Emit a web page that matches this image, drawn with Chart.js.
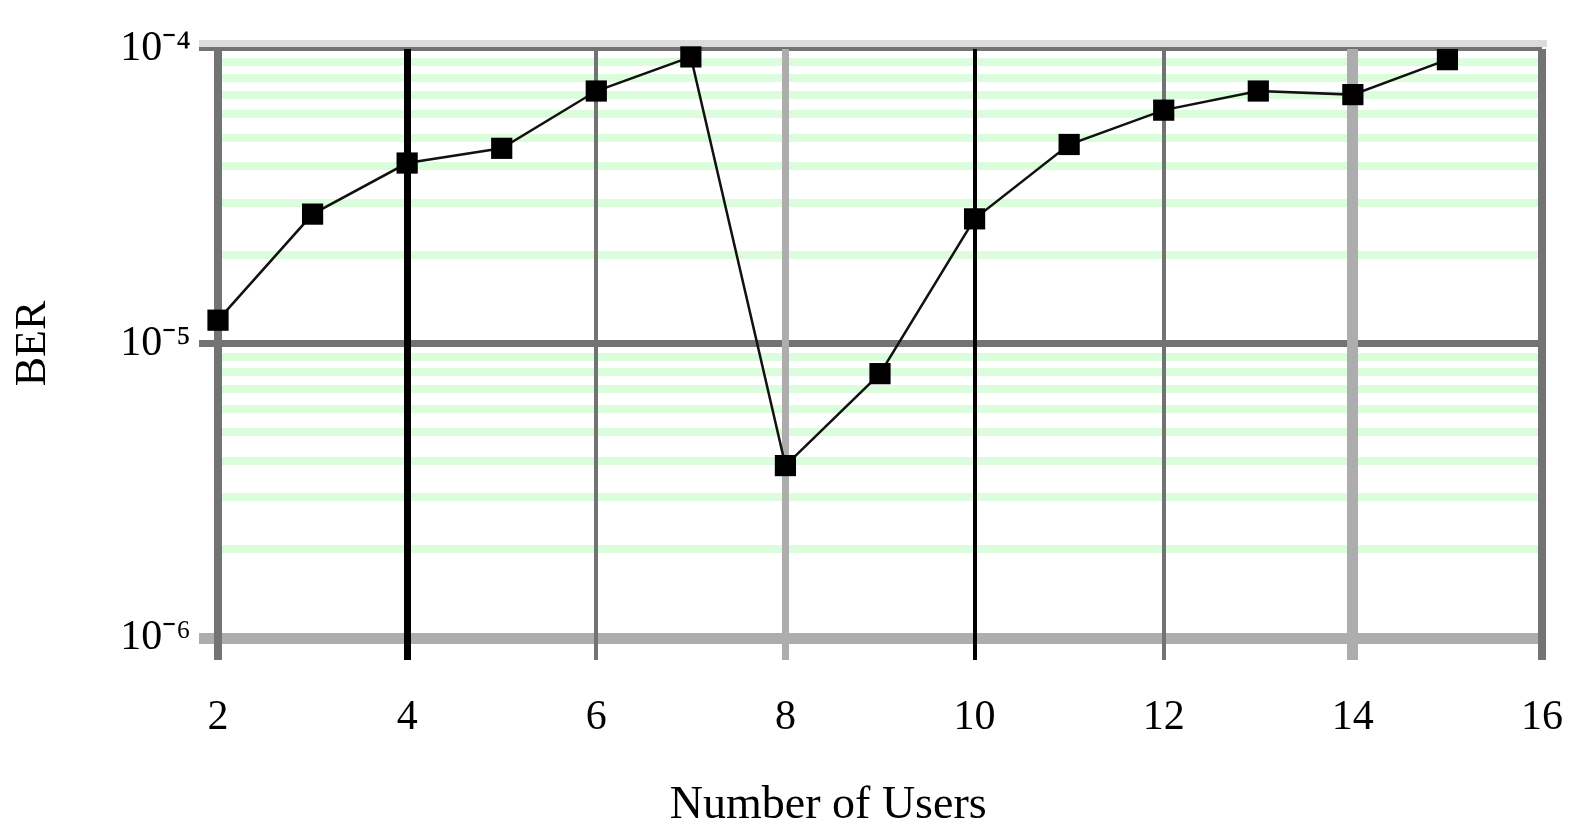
<!DOCTYPE html>
<html>
<head>
<meta charset="utf-8">
<script src="https://cdn.jsdelivr.net/npm/chart.js@4"></script>
<style>
  html, body { margin: 0; padding: 0; background: #fff; }
  #wrap { width: 1596px; height: 840px; }
</style>
</head>
<body>
<div id="wrap"><canvas id="ber-canvas" width="1596" height="840"></canvas></div>
<script>
// values
var users = [2, 3, 4, 5, 6, 7, 8, 9, 10, 11, 12, 13, 14, 15];
var ber = [1.2e-5, 2.75e-5, 4.1e-5, 4.6e-5, 7.2e-5, 9.4e-5, 3.85e-6, 7.9e-6, 2.65e-5, 4.74e-5, 6.2e-5, 7.2e-5, 7.0e-5, 9.2e-5];
var xTicks = [2, 4, 6, 8, 10, 12, 14, 16];
var yMajorTicks = [1e-6, 1e-5, 1e-4];
var yTickLabels = ['10\u207B\u2076', '10\u207B\u2075', '10\u207B\u2074'];

// line styles for the vertical grid lines (colour, width)
var xGridStyle = {
    2: ['#737373', 8], 4: ['#000000', 7], 6: ['#737373', 4], 8: ['#adadad', 7],
    10: ['#000000', 4], 12: ['#737373', 4], 14: ['#adadad', 11], 16: ['#737373', 8]
};
var yMajorStyle = ['#adadad', '#737373', '#737373'];
var yMajorWidth = [11, 7, 4];

var majorIndex = function(v) {
    for (var i = 0; i < yMajorTicks.length; i++) {
        if (Math.abs(v - yMajorTicks[i]) / yMajorTicks[i] < 1e-6) return i;
    }
    return -1;
};

var topBand = {
    id: 'topBand',
    beforeDatasetsDraw: function(chart) {
        var ctx = chart.ctx;
        var y = chart.scales.y.getPixelForValue(1e-4);
        var area = chart.chartArea;
        ctx.save();
        ctx.fillStyle = '#dcdcdc';
        ctx.fillRect(area.left - 19, y - 9, area.right - area.left + 24, 7);
        ctx.restore();
    }
};

var points = [];
for (var i = 0; i < users.length; i++) {
    points.push({x: users[i], y: ber[i]});
}

window.onload = function() {
    var ctx = document.getElementById('ber-canvas').getContext('2d');
    window.berChart = new Chart(ctx, {
        type: 'line',
        data: {
            datasets: [{
                data: points,
                borderColor: '#111111',
                borderWidth: 2.5,
                pointStyle: 'rect',
                pointRadius: 15,
                pointBackgroundColor: '#000000',
                pointBorderColor: '#000000',
                pointBorderWidth: 0,
                tension: 0,
                clip: false
            }]
        },
        plugins: [topBand],
        options: {
            responsive: false,
            animation: false,
            events: [],
            layout: { padding: { top: 49, right: 23, bottom: 0, left: 0 } },
            plugins: {
                legend: { display: false },
                tooltip: { enabled: false }
            },
            scales: {
                x: {
                    type: 'linear',
                    min: 2,
                    max: 16,
                    afterFit: function(scale) { scale.height = 202; },
                    afterBuildTicks: function(scale) {
                        scale.ticks = xTicks.map(function(v) { return {value: v}; });
                    },
                    border: { display: false },
                    grid: {
                        z: -1,
                        tickLength: 22,
                        color: function(c) { return (xGridStyle[c.tick.value] || ['#737373'])[0]; },
                        lineWidth: function(c) { return (xGridStyle[c.tick.value] || [0, 4])[1]; }
                    },
                    ticks: {
                        autoSkip: false,
                        maxRotation: 0,
                        padding: 33,
                        color: '#000',
                        font: { family: 'Liberation Serif', size: 42 }
                    },
                    title: {
                        display: true,
                        text: 'Number of Users\u00a0\u00a0\u00a0\u00a0\u00a0\u00a0\u00a0\u00a0\u00a0',
                        color: '#000',
                        padding: { top: 0, bottom: 6 },
                        font: { family: 'Liberation Serif', size: 46 }
                    }
                },
                y: {
                    type: 'logarithmic',
                    min: 1e-6,
                    max: 1e-4,
                    afterFit: function(scale) { scale.width = 218; },
                    afterBuildTicks: function(scale) {
                        var t = [];
                        for (var d = 0; d < yMajorTicks.length; d++) {
                            t.push({value: yMajorTicks[d], major: true});
                            if (d < yMajorTicks.length - 1) {
                                for (var k = 2; k <= 9; k++) {
                                    t.push({value: k * yMajorTicks[d]});
                                }
                            }
                        }
                        scale.ticks = t;
                    },
                    border: { display: false },
                    grid: {
                        z: -2,
                        tickLength: 19,
                        color: function(c) {
                            var m = majorIndex(c.tick.value);
                            return m >= 0 ? yMajorStyle[m] : '#dcfddc';
                        },
                        tickColor: function(c) {
                            var m = majorIndex(c.tick.value);
                            return m >= 0 ? yMajorStyle[m] : 'rgba(0,0,0,0)';
                        },
                        lineWidth: function(c) {
                            var m = majorIndex(c.tick.value);
                            return m >= 0 ? yMajorWidth[m] : 8;
                        }
                    },
                    ticks: {
                        autoSkip: false,
                        padding: 8,
                        color: '#000',
                        font: { family: 'Liberation Serif', size: 42 },
                        callback: function(value) {
                            var m = majorIndex(value);
                            return m >= 0 ? yTickLabels[m] : '';
                        }
                    },
                    title: {
                        display: true,
                        text: 'BER',
                        color: '#000',
                        padding: { top: 7, bottom: 0 },
                        font: { family: 'Liberation Serif', size: 44 }
                    }
                }
            }
        }
    });
};
</script>
</body>
</html>
